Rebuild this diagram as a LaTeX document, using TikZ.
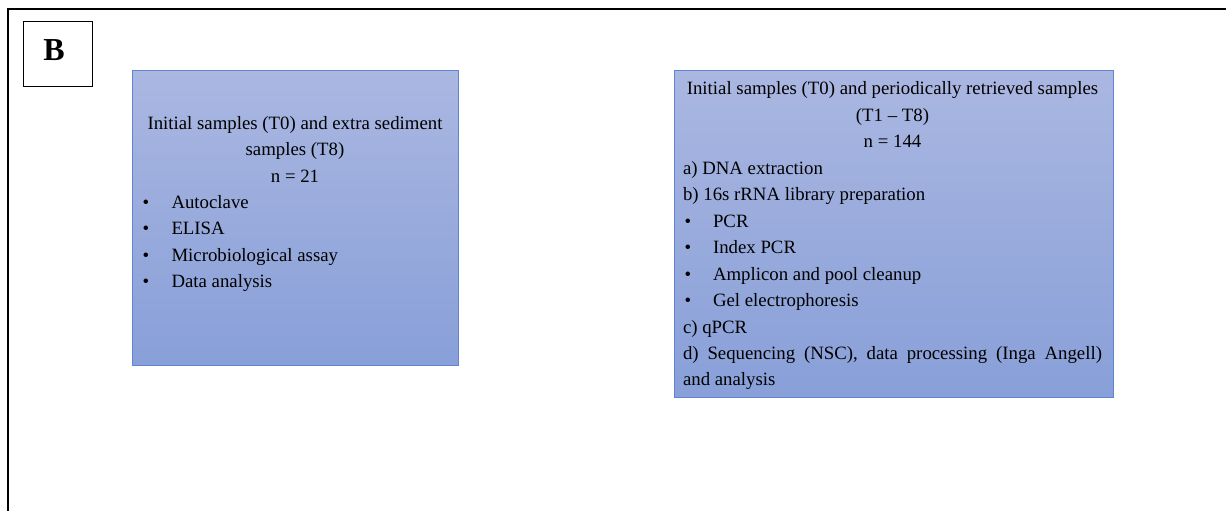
\documentclass[tikz,border=0pt]{standalone}
\usepackage{fontspec}
\setmainfont{Liberation Serif}
\definecolor{boxtop}{RGB}{170,183,225}
\definecolor{boxbot}{RGB}{136,159,216}
\definecolor{boxedge}{RGB}{96,132,212}
\tikzset{
  panel/.style={draw=boxedge, line width=1pt, top color=boxtop, bottom color=boxbot, inner sep=0pt},
  txt/.style={inner sep=0pt, outer sep=0pt, font=\fontsize{18.8}{26.45}\selectfont, text=black},
  bul/.style={txt, anchor=base},
}
\begin{document}
\begin{tikzpicture}[x=1pt,y=-1pt]
\useasboundingbox (0,0) rectangle (1226,511);
\fill[white] (0,0) rectangle (1226,511);
% outer frame (top and left)
\coordinate (fbl) at (7.5,515);
\coordinate (ftl) at (7.5,9);
\coordinate (ftr) at (1230,9);
\draw[line width=2pt] (fbl) -- (ftl) -- (ftr);
% label B
\node[draw, line width=1pt, minimum width=69pt, minimum height=64pt, inner sep=0pt] (lab) at (57.5,54) {};
\node[inner sep=0pt, font=\fontsize{32}{36}\selectfont\bfseries] (labB) at (54,50) {B};
% left panel
\node[panel, minimum width=326pt, minimum height=294pt] (lp) at (295,218) {};
\node[txt, anchor=base] (l1) at (295,129) {Initial samples (T0) and extra sediment};
\node[txt, anchor=base] (l2) at (295,155.5) {samples (T8)};
\node[txt, anchor=base] (l3) at (295,182) {n = 21};
\foreach \t [count=\i] in {Autoclave, ELISA, Microbiological assay, Data analysis}{
  \node[bul] (lb\i) at (146,182+26.45*\i) {•};
  \node[txt, anchor=base west] (li\i) at (171.5,182+26.45*\i) {\t};
}
% right panel
\node[panel, minimum width=439pt, minimum height=326pt] (rp) at (893.5,234) {};
\node[txt, anchor=base] (r1) at (892.5,95) {Initial samples (T0) and periodically retrieved samples};
\node[txt, anchor=base] (r2) at (892.5,121.45) {(T1 -- T8)};
\node[txt, anchor=base] (r3) at (892.5,147.9) {n = 144};
\node[txt, anchor=base west] (r4) at (683,174.35) {a) DNA extraction};
\node[txt, anchor=base west] (r5) at (683,200.8) {b) 16s rRNA library preparation};
\foreach \t [count=\i] in {PCR, Index PCR, Amplicon and pool cleanup, Gel electrophoresis}{
  \node[bul] (rb\i) at (688,200.8+26.45*\i) {•};
  \node[txt, anchor=base west] (ri\i) at (713,200.8+26.45*\i) {\t};
}
\node[txt, anchor=base west] (r6) at (683,333.05) {c) qPCR};
\node[txt, anchor=base west] (r7) at (683,359.5) {\makebox[419pt][s]{d) Sequencing (NSC), data processing (Inga Angell)}};
\node[txt, anchor=base west] (r8) at (683,385.95) {and analysis};
\end{tikzpicture}
\end{document}
